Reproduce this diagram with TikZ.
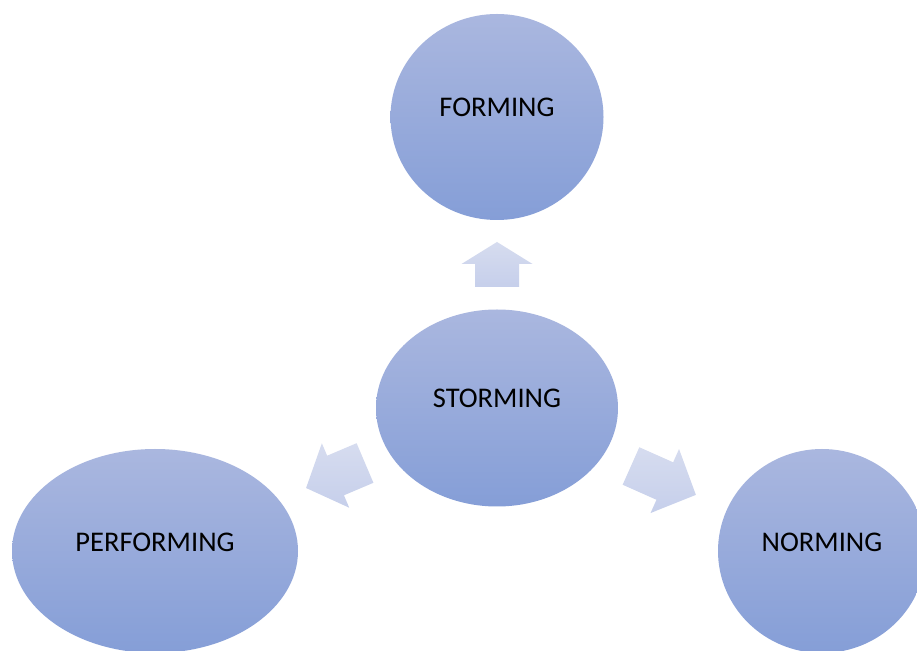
\documentclass[tikz,border=0pt]{standalone}
\usepackage{fontspec}
\setmainfont{Carlito}
\usetikzlibrary{shapes.geometric}
\definecolor{elltop}{RGB}{170,183,223}
\definecolor{ellbot}{RGB}{133,158,215}
\definecolor{arrtop}{RGB}{214,220,239}
\definecolor{arrbot}{RGB}{198,207,235}
\tikzset{
  stage/.style={ellipse, inner sep=0pt, top color=elltop, bottom color=ellbot, draw=none},
  lbl/.style={font=\fontsize{28.5}{34}\selectfont, text=black, inner sep=0pt},
  blockarrow/.style={top color=arrtop, bottom color=arrbot, draw=none}
}
\begin{document}
\begin{tikzpicture}[x=1pt,y=1pt]
\useasboundingbox (0,0) rectangle (917,650);
\clip (0,0) rectangle (917,650);
\fill[white] (0,0) rectangle (917,650);
% stages
\node[stage, minimum width=213pt, minimum height=206pt] (forming) at (497,533) {};
\node[stage, minimum width=242pt, minimum height=197pt] (storming) at (497,242) {};
\node[stage, minimum width=286pt, minimum height=204pt] (performing) at (155,99) {};
\node[stage, minimum width=208pt, minimum height=204pt] (norming) at (822,99) {};
\node[lbl] (tforming) at ([yshift=10pt]forming.center) {FORMING};
\node[lbl] (tstorming) at ([yshift=10pt]storming.center) {STORMING};
\node[lbl] (tperforming) at ([yshift=9pt]performing.center) {PERFORMING};
\node[lbl] (tnorming) at ([yshift=9pt]norming.center) {NORMING};
% block arrows
\coordinate (aup) at (497,363);
\coordinate (aleft) at (365,187);
\coordinate (aright) at (631,184);
\begin{scope}[shift={(aup)}, rotate=90]
\path[blockarrow] (0,-22) -- (23,-22) -- (23,-35.5) -- (45,0) -- (23,35.5) -- (23,22) -- (0,22) -- cycle;
\end{scope}
\begin{scope}[shift={(aleft)}, rotate=203]
\path[blockarrow] (0,-21.5) -- (32,-21.5) -- (32,-35) -- (64,0) -- (32,35) -- (32,21.5) -- (0,21.5) -- cycle;
\end{scope}
\begin{scope}[shift={(aright)}, rotate=-24]
\path[blockarrow] (0,-20.5) -- (37,-20.5) -- (37,-35) -- (71,0) -- (37,35) -- (37,20.5) -- (0,20.5) -- cycle;
\end{scope}
\end{tikzpicture}
\end{document}
